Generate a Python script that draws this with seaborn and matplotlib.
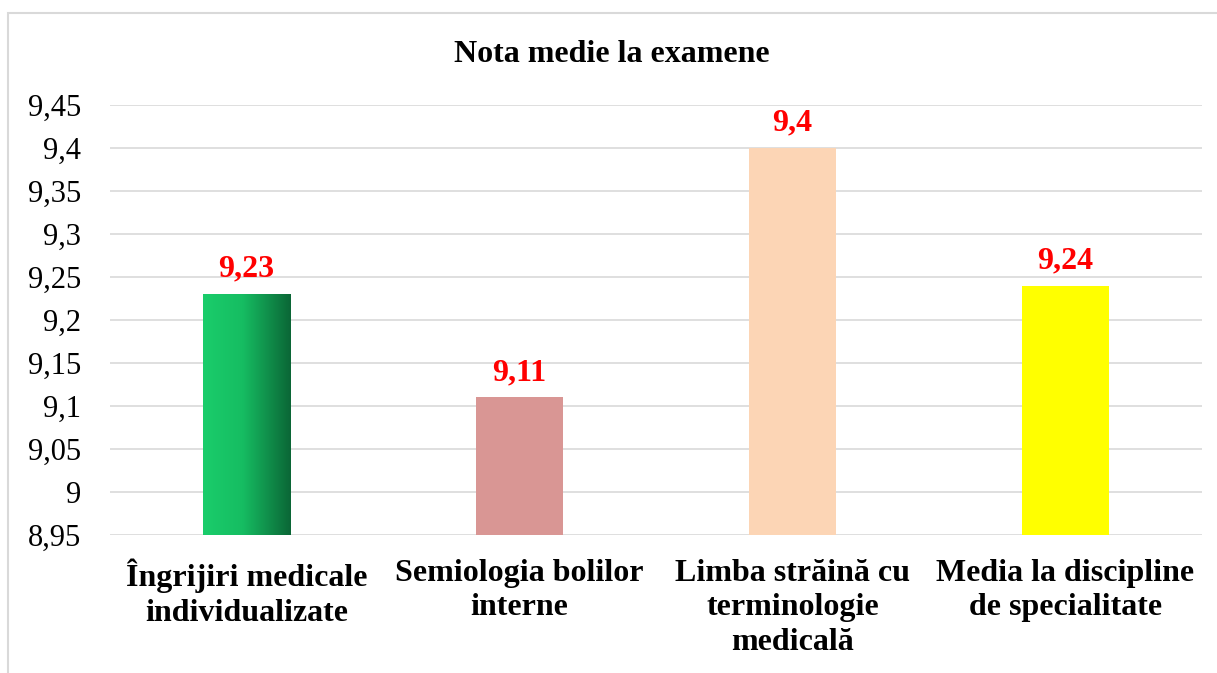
import matplotlib
matplotlib.use("Agg")
import matplotlib.pyplot as plt
import seaborn as sns
import pandas as pd
import numpy as np
from matplotlib.colors import LinearSegmentedColormap

# date
categorii = [
    "Îngrijiri medicale\nindividualizate",
    "Semiologia bolilor\ninterne",
    "Limba străină cu\nterminologie\nmedicală",
    "Media la discipline\nde specialitate",
]
note = [9.23, 9.11, 9.40, 9.24]
culori = ["#17C964", "#D99694", "#FCD5B5", "#FFFF00"]
y_ticks = [8.95, 9.0, 9.05, 9.1, 9.15, 9.2, 9.25, 9.3, 9.35, 9.4, 9.45]

sns.set_theme(style="white")
plt.rcParams["font.family"] = ["Liberation Serif", "DejaVu Serif"]
plt.rcParams["text.color"] = "black"
plt.rcParams["xtick.color"] = "black"
plt.rcParams["ytick.color"] = "black"

df = pd.DataFrame({"categorie": categorii, "nota": note})

fig = plt.figure(figsize=(12.17, 6.73), dpi=100)
ax = fig.add_axes([110 / 1217, 1 - 535 / 673, (1202 - 110) / 1217, (535 - 105) / 673])

sns.barplot(data=df, x="categorie", y="nota", hue="categorie", palette=culori,
            saturation=1, legend=False, width=0.32, ax=ax, zorder=2, linewidth=0)

ax.set_ylim(y_ticks[0], y_ticks[-1])
ax.set_yticks(y_ticks)
ax.set_yticklabels([f"{v:g}".replace(".", ",") for v in y_ticks], fontsize=22)
ax.tick_params(axis="y", length=0, pad=21)
ax.tick_params(axis="x", length=0, pad=17)
for lbl in ax.get_xticklabels():
    lbl.set_fontsize(23)
    lbl.set_fontweight("bold")
    lbl.set_linespacing(1.25)
    lbl.set_verticalalignment("top")
ax.set_xlabel("")
ax.set_ylabel("")
ax.grid(axis="y", color="#D9D9D9", linewidth=1.2, zorder=0)
ax.set_axisbelow(True)
for s in ax.spines.values():
    s.set_visible(False)

# gradient pe prima bara (verde deschis -> verde inchis)
bara = ax.patches[0]
x0, w = bara.get_x(), bara.get_width()
grad = LinearSegmentedColormap.from_list(
    "g", [(0, "#1ACD6B"), (0.45, "#16BD62"), (1, "#0B6636")])
img = ax.imshow(np.linspace(0, 1, 256).reshape(1, -1), cmap=grad, aspect="auto",
                extent=[x0, x0 + w, y_ticks[0], note[0]], zorder=3)
img.set_clip_path(bara)
ax.set_xlim(-0.5, len(categorii) - 0.5)
ax.set_ylim(y_ticks[0], y_ticks[-1])

# etichete valori
for p, v in zip(ax.patches, note):
    ax.text(p.get_x() + p.get_width() / 2, v + 0.012, f"{v:g}".replace(".", ","),
            ha="center", va="bottom", color="#FF0000", fontsize=23, fontweight="bold")

fig.text(612 / 1217, 1 - 54 / 673, "Nota medie la examene", ha="center", va="center",
         fontsize=23, fontweight="bold")

# chenarul graficului
fig.patches.append(plt.Rectangle((8 / 1217, -0.1), 1.2, 1 - 13 / 673 + 0.1,
                                 transform=fig.transFigure, fill=False,
                                 edgecolor="#D9D9D9", linewidth=1.5))

fig.savefig("out.png", dpi=100)
